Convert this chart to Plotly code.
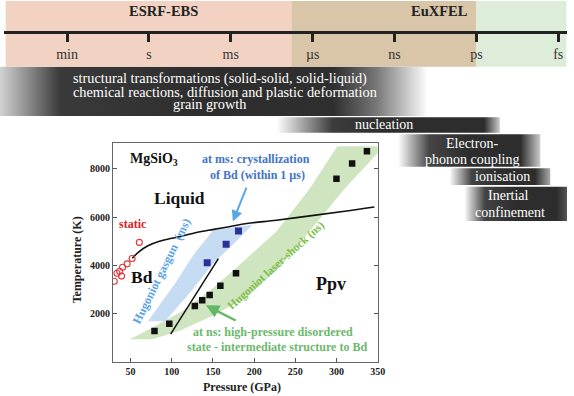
import plotly.graph_objects as go

# ---------------- data ----------------
time_labels = ["min", "s", "ms", "µs", "ns", "ps", "fs"]
facility_labels = ["ESRF-EBS", "EuXFEL"]
process_texts = [
    ["structural transformations (solid-solid, solid-liquid)",
     "chemical reactions, diffusion and plastic deformation",
     "grain growth"],
    ["nucleation"],
    ["Electron-", "phonon coupling"],
    ["ionisation"],
    ["Inertial", "confinement"],
]

# Hugoniot laser-shock (ns) points
laser_P = [79, 97, 128, 137, 146, 159, 178, 300, 319, 337]
laser_T = [1270, 1570, 2310, 2545, 2765, 3150, 3670, 7590, 8220, 8730]
# Hugoniot gas-gun (ms) points
gasgun_P = [143, 166, 181]
gasgun_T = [4100, 4870, 5420]
# static experiments
static_P = [30.2, 33.4, 36.6, 39.0, 40.2, 45.8, 51.8, 60.6]
static_T = [3340, 3670, 3755, 3550, 3920, 4060, 4280, 4950]
# melting curve
melt_P = [52, 60, 71, 85, 100, 111, 130, 151, 171, 191, 227, 270, 310, 346]
melt_T = [4290, 4560, 4810, 5000, 5120, 5200, 5360, 5490, 5610, 5730, 5870, 6060, 6240, 6420]
# ns boundary line
nsline_P = [98.6, 156.6]
nsline_T = [1140, 4275]
# laser-shock Hugoniot band
laser_band_P = [49, 71, 111, 147, 179, 227, 267, 301, 352, 352, 311, 271, 231, 191, 151, 111, 77, 49]
laser_band_T = [930, 1310, 2060, 2960, 3920, 5400, 7150, 8940, 8940, 8730, 7220, 5570, 3920, 2680, 1930, 1300, 936, 930]
# gas-gun Hugoniot band
gas_band_P = [71, 92, 123, 151, 175, 198, 170, 150, 127, 105, 71]
gas_band_T = [1680, 1680, 2900, 4100, 4880, 5680, 5560, 5440, 4470, 3300, 1680]

# ---------------- layout geometry (pixels) ----------------
W, H = 574, 396
SERIF = "Liberation Serif"

fig = go.Figure()

# main plot traces
fig.add_trace(go.Scatter(x=laser_band_P, y=laser_band_T, fill="toself", mode="lines",
                         line=dict(width=0), fillcolor="#cfe5c0", hoverinfo="skip", showlegend=False))
fig.add_trace(go.Scatter(x=gas_band_P, y=gas_band_T, fill="toself", mode="lines",
                         line=dict(width=0), fillcolor="#c6dcf3", hoverinfo="skip", showlegend=False))
fig.add_trace(go.Scatter(x=melt_P, y=melt_T, mode="lines", line=dict(color="#111", width=1.6, shape="spline"),
                         hoverinfo="skip", showlegend=False))
fig.add_trace(go.Scatter(x=nsline_P, y=nsline_T, mode="lines", line=dict(color="#111", width=1.5),
                         hoverinfo="skip", showlegend=False))
fig.add_trace(go.Scatter(x=static_P, y=static_T, mode="markers",
                         marker=dict(symbol="circle-open", size=6, color="#e03a3a", line=dict(width=1.1)),
                         showlegend=False))
fig.add_trace(go.Scatter(x=laser_P, y=laser_T, mode="markers",
                         marker=dict(symbol="square", size=6.5, color="#111"), showlegend=False))
fig.add_trace(go.Scatter(x=gasgun_P, y=gasgun_T, mode="markers",
                         marker=dict(symbol="square", size=7, color="#2a2f9c"), showlegend=False))

# gradient process bars (pixel overlay axes)
bars = [
    dict(x0=0, x1=433, y0=66.7, y1=116,
         cs=[[0, "#d2d2d2"], [0.04, "#a8a8a8"], [0.14, "#3a3a3a"], [0.5, "#2d2d2d"], [0.78, "#2f2f2f"],
             [0.88, "#777777"], [1, "#ffffff"]],
         pos=[(223, 78.3), (228, 92.3), (212.5, 104)], size=14.3),
    dict(x0=280, x1=506, y0=117.3, y1=132.7,
         cs=[[0, "#ffffff"], [0.25, "#3c3c3c"], [0.5, "#2d2d2d"], [0.93, "#2d2d2d"], [1, "#cccccc"]],
         pos=[(389, 124.8)], size=14),
    dict(x0=403, x1=547, y0=134.3, y1=166.7,
         cs=[[0, "#ffffff"], [0.22, "#444444"], [0.5, "#2d2d2d"], [0.86, "#2d2d2d"], [1, "#cccccc"]],
         pos=[(478.3, 143.5), (478.3, 159)], size=14),
    dict(x0=455, x1=557, y0=168.3, y1=185,
         cs=[[0, "#ffffff"], [0.22, "#444444"], [0.5, "#2d2d2d"], [0.85, "#2d2d2d"], [1, "#aaaaaa"]],
         pos=[(508.3, 176.5)], size=14),
    dict(x0=470, x1=574, y0=186.7, y1=221,
         cs=[[0, "#ffffff"], [0.2, "#444444"], [0.5, "#2d2d2d"], [0.9, "#2d2d2d"], [1, "#555555"]],
         pos=[(515, 195.5), (516.3, 212.7)], size=14),
]

annotations = []
for b, texts in zip(bars, process_texts):
    fig.add_trace(go.Scatter(x=[b["x0"], b["x1"], b["x1"], b["x0"], b["x0"]],
                             y=[b["y0"], b["y0"], b["y1"], b["y1"], b["y0"]],
                             xaxis="x2", yaxis="y2", mode="lines", line=dict(width=0), fill="toself",
                             fillgradient=dict(type="horizontal", colorscale=b["cs"]),
                             hoverinfo="skip", showlegend=False))
    for t, (px, py) in zip(texts, b["pos"]):
        annotations.append(dict(x=px, y=py, xref="x2", yref="y2", text=t, showarrow=False,
                                font=dict(family=SERIF, size=b["size"], color="white"),
                                xanchor="center", yanchor="middle"))

# dummy trace so the timeline axis exists
fig.add_trace(go.Scatter(x=[None], y=[None], xaxis="x3", yaxis="y2", showlegend=False, hoverinfo="skip"))

# timeline facility bands
shapes = [
    dict(type="rect", xref="x3", yref="y2", x0=-0.75, x1=2.74, y0=1, y1=66.7, fillcolor="#f2d3c3",
         line=dict(width=0), layer="below"),
    dict(type="rect", xref="x3", yref="y2", x0=2.74, x1=5.0, y0=1, y1=66.7, fillcolor="#d9c5a8",
         line=dict(width=0), layer="below"),
    dict(type="rect", xref="x3", yref="y2", x0=5.0, x1=6.1, y0=1, y1=66.7, fillcolor="#ddedd9",
         line=dict(width=0), layer="below"),
]
for lab, px in zip(facility_labels, [166, 445]):
    annotations.append(dict(x=px, y=11, xref="x2", yref="y2", text="<b>%s</b>" % lab, showarrow=False,
                            font=dict(family=SERIF, size=14.5, color="#222")))

# main plot annotations
def ann(x, y, text, size, color, angle=0):
    annotations.append(dict(x=x, y=y, xref="x", yref="y", text=text, showarrow=False, textangle=angle,
                            font=dict(family=SERIF, size=size, color=color)))

ann(79, 8390, "<b>MgSiO<sub>3</sub></b>", 14, "#111")
ann(109, 6800, "<b>Liquid</b>", 17.5, "#111")
ann(63.8, 3505, "<b>Bd</b>", 17.5, "#111")
ann(293, 3230, "<b>Ppv</b>", 18, "#111")
ann(53.4, 5707, "<b>static</b>", 12, "#e0201f")
ann(202.4, 8390, "<b>at ms: crystallization</b>", 12, "#3f74c8")
ann(204.4, 7728, "<b>of Bd (within 1 µs)</b>", 12, "#3f74c8")
ann(222.4, 1237, "<b>at ns: high-pressure disordered</b>", 12, "#6bb96b")
ann(227.4, 619, "<b>state - intermediate structure to Bd</b>", 12, "#6bb96b")
ann(87.8, 3753, "<b>Hugoniot gasgun  (ms)</b>", 12, "#5aa2e8", -63.7)
ann(226.4, 4008, "<b>Hugoniot laser-shock (ns)</b>", 11.5, "#7bbf45", -42)

# arrows
annotations.append(dict(x=174.2, y=5815, ax=191.4, ay=7287, xref="x", yref="y", axref="x", ayref="y",
                        text="", showarrow=True, arrowhead=2, arrowsize=1.1, arrowwidth=2, arrowcolor="#5aa7e6"))
annotations.append(dict(x=141.4, y=2338, ax=179.4, ay=1678, xref="x", yref="y", axref="x", ayref="y",
                        text="", showarrow=True, arrowhead=2, arrowsize=1.1, arrowwidth=2.4, arrowcolor="#62b866"))

# axis titles
annotations.append(dict(x=78.3, y=260, xref="x2", yref="y2", text="<b>Temperature (K)</b>", textangle=-90,
                        showarrow=False, font=dict(family=SERIF, size=12, color="#222")))
annotations.append(dict(x=245, y=386.7, xref="x2", yref="y2", text="<b>Pressure (GPa)</b>",
                        showarrow=False, font=dict(family=SERIF, size=12, color="#222")))

tickfont = dict(family=SERIF, size=10, color="#222", weight="bold")
fig.update_layout(
    width=W, height=H, margin=dict(l=0, r=0, t=0, b=0),
    paper_bgcolor="white", plot_bgcolor="rgba(0,0,0,0)",
    xaxis=dict(domain=[114.3 / W, 382.3 / W], range=[28.5, 350], tickvals=[50, 100, 150, 200, 250, 300, 350],
               ticks="inside", ticklen=4, tickcolor="#555", showline=True, linecolor="#666", linewidth=1,
               mirror=True, showgrid=False, zeroline=False, tickfont=tickfont, anchor="y"),
    yaxis=dict(domain=[1 - 361.7 / H, 1 - 143.3 / H], range=[0, 9060], tickvals=[2000, 4000, 6000, 8000],
               ticks="inside", ticklen=4, tickcolor="#555", showline=True, linecolor="#666", linewidth=1,
               mirror="ticks", showgrid=False, zeroline=False, tickfont=tickfont, anchor="x"),
    xaxis2=dict(domain=[0, 1], range=[0, W], visible=False, anchor="y2", fixedrange=True),
    yaxis2=dict(domain=[0, 1], range=[H, 0], visible=False, anchor="x2", fixedrange=True),
    xaxis3=dict(domain=[4 / W, 1], range=[(4 - 67.9) / 82.87, (W - 67.9) / 82.87],
                anchor="free", position=1 - 32.3 / H, tickvals=list(range(len(time_labels))),
                ticktext=time_labels, ticks="outside", ticklen=8, tickwidth=3, tickcolor="#222",
                showline=True, linewidth=3, linecolor="#222", showgrid=False, zeroline=False,
                tickfont=dict(family=SERIF, size=14, color="#333")),
    shapes=shapes, annotations=annotations, showlegend=False,
)

fig.write_html("out.html", config={"displayModeBar": False},
               post_script="document.body.style.margin='0';document.body.style.padding='0';")
